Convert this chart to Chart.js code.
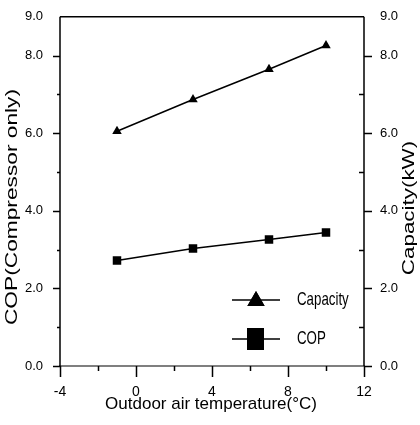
<!DOCTYPE html>
<html>
<head>
<meta charset="utf-8">
<script src="https://cdn.jsdelivr.net/npm/chart.js@4/dist/chart.umd.min.js"></script>
<style>
html,body{margin:0;padding:0;background:#fff;}
#wrap{width:420px;height:425px;}
</style>
</head>
<body>
<div id="wrap"><canvas id="c" width="420" height="425"></canvas></div>
<script>
// Data
const temperatures = [-1, 3, 7, 10];
const capacityKW = [6.05, 6.87, 7.65, 8.26];
const copValues = [2.72, 3.03, 3.26, 3.44];

const xTicksMajor = [-4, 0, 4, 8, 12];
const xTicksMinor = [-2, 2, 6, 10];
const yTicksMajor = [0, 2, 4, 6, 8];
const yTicksMinor = [1, 3, 5, 7];
const yLabelled = [0, 2, 4, 6, 8, 9];

const seriesNames = ['Capacity', 'COP'];
const xTitle = 'Outdoor air temperature(\u00B0C)';
const yLeftTitle = 'COP(Compressor only)';
const yRightTitle = 'Capacity(kW)';

const FONT = '"Liberation Sans", Arial, sans-serif';
Chart.defaults.color = '#000';
Chart.defaults.font.family = FONT;

const decorPlugin = {
  id: 'decor',
  afterDraw(chart) {
    const ctx = chart.ctx;
    const a = chart.chartArea;
    const xs = chart.scales.x, yl = chart.scales.y, yr = chart.scales.y2;
    ctx.save();
    ctx.strokeStyle = '#000';
    ctx.lineWidth = 1.5;
    // frame
    ctx.beginPath();
    ctx.moveTo(a.left, a.top); ctx.lineTo(a.right, a.top);
    ctx.moveTo(a.left, a.top); ctx.lineTo(a.left, a.bottom);
    ctx.moveTo(a.right, a.top); ctx.lineTo(a.right, a.bottom);
    ctx.stroke();
    ctx.lineWidth = 1.2;
    ctx.beginPath();
    ctx.moveTo(a.left - 1, a.bottom); ctx.lineTo(a.right + 1, a.bottom);
    ctx.stroke();
    // ticks
    ctx.lineWidth = 1.5;
    ctx.beginPath();
    yTicksMajor.forEach(v => {
      const p = Math.round(yl.getPixelForValue(v)) + 0.5;
      ctx.moveTo(a.left - 7, p); ctx.lineTo(a.left, p);
      const q = Math.round(yr.getPixelForValue(v)) + 0.5;
      ctx.moveTo(a.right, q); ctx.lineTo(a.right + 8, q);
    });
    yTicksMinor.forEach(v => {
      const p = Math.round(yl.getPixelForValue(v)) + 0.5;
      ctx.moveTo(a.left - 3, p); ctx.lineTo(a.left, p);
      const q = Math.round(yr.getPixelForValue(v)) + 0.5;
      ctx.moveTo(a.right - 5, q); ctx.lineTo(a.right, q);
    });
    xTicksMajor.forEach(v => {
      const p = Math.round(xs.getPixelForValue(v)) + 0.5;
      ctx.moveTo(p, a.bottom); ctx.lineTo(p, a.bottom + 11);
    });
    xTicksMinor.forEach(v => {
      const p = Math.round(xs.getPixelForValue(v)) + 0.5;
      ctx.moveTo(p, a.bottom); ctx.lineTo(p, a.bottom + 5);
    });
    ctx.stroke();

    // axis titles
    ctx.fillStyle = '#000';
    ctx.textAlign = 'center';
    ctx.textBaseline = 'middle';
    ctx.font = '17px ' + FONT;
    ctx.fillText(xTitle, 211, 404);

    ctx.font = '16px ' + FONT;
    ctx.save();
    ctx.translate(13, 207);
    ctx.rotate(-Math.PI / 2);
    ctx.scale(1.42, 1);
    ctx.fillText(yLeftTitle, 0, 0);
    ctx.restore();

    ctx.save();
    ctx.translate(410, 208);
    ctx.rotate(-Math.PI / 2);
    ctx.scale(1.4, 1);
    ctx.fillText(yRightTitle, 0, 0);
    ctx.restore();

    // legend
    const ds = chart.data.datasets;
    const legendRows = [300, 339];
    ds.forEach((d, i) => {
      const y = legendRows[i];
      ctx.lineWidth = 1.5;
      ctx.beginPath();
      ctx.moveTo(232, y); ctx.lineTo(280, y);
      ctx.stroke();
      ctx.fillStyle = '#000';
      if (d.pointStyle === 'triangle') {
        Chart.helpers.drawPoint(ctx, {pointStyle: 'triangle', radius: 10, borderWidth: 0, rotation: 0}, 256, y + 1);
        ctx.fill();
      } else {
        ctx.fillRect(247, y - 11, 17, 22);
      }
      ctx.save();
      ctx.translate(297, y);
      ctx.scale(0.95, 1.3);
      ctx.textAlign = 'left';
      ctx.font = '14px ' + FONT;
      ctx.fillText(d.label, 0, 0);
      ctx.restore();
    });
    ctx.restore();
  }
};

new Chart(document.getElementById('c'), {
  type: 'line',
  data: {
    datasets: [
      {
        label: seriesNames[0],
        data: temperatures.map((t, i) => ({x: t, y: capacityKW[i]})),
        yAxisID: 'y2',
        borderColor: '#000',
        backgroundColor: '#000',
        borderWidth: 1.5,
        pointStyle: 'triangle',
        pointRadius: 5.5,
        pointBorderWidth: 0,
        tension: 0
      },
      {
        label: seriesNames[1],
        data: temperatures.map((t, i) => ({x: t, y: copValues[i]})),
        yAxisID: 'y',
        borderColor: '#000',
        backgroundColor: '#000',
        borderWidth: 1.5,
        pointStyle: 'rect',
        pointRadius: 6,
        pointBorderWidth: 0,
        tension: 0
      }
    ]
  },
  options: {
    responsive: false,
    animation: false,
    devicePixelRatio: 1,
    layout: {padding: {top: 15, left: 0, right: 0, bottom: 0}},
    plugins: {legend: {display: false}, tooltip: {enabled: false}},
    scales: {
      x: {
        type: 'linear', min: -4, max: 12,
        grid: {display: false}, border: {display: false},
        ticks: {stepSize: 4, padding: 10, font: {size: 14}, color: '#000',
          callback: v => String(v)},
        afterFit: s => { s.height = 59; }
      },
      y: {
        position: 'left', min: 0, max: 9,
        grid: {display: false}, border: {display: false},
        ticks: {stepSize: 1, autoSkip: false, padding: 9, font: {size: 13}, color: '#000',
          callback: v => yLabelled.includes(v) ? v.toFixed(1) : ''},
        afterFit: s => { s.width = 60; }
      },
      y2: {
        position: 'right', min: 0, max: 9,
        grid: {display: false}, border: {display: false},
        ticks: {stepSize: 1, autoSkip: false, padding: 8, font: {size: 13}, color: '#000',
          callback: v => yLabelled.includes(v) ? v.toFixed(1) : ''},
        afterFit: s => { s.width = 56; }
      }
    }
  },
  plugins: [decorPlugin]
});
</script>
</body>
</html>
